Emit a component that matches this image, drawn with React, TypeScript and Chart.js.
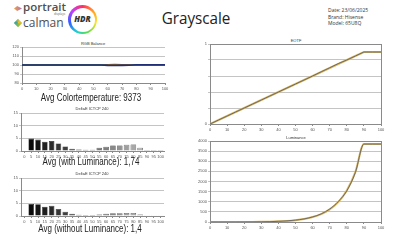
import React, { useEffect, useRef } from "react";
import { Chart, registerables } from "chart.js";
Chart.register(...registerables);

// ---------------- data ----------------
const stimulus = [0, 5, 10, 15, 20, 25, 30, 35, 40, 45, 50, 55, 60, 65, 70, 75, 80, 85, 90, 95, 100];
const stimulusLabels = ["0", "5", "10", "15", "20", "25", "30", "35", "40", "45", "50", "55", "60", "65", "70", "75", "80", "85", "90", "95", "100"];

const rgbRed = [100, 100, 100, 100, 100, 100, 100, 100, 100, 100, 100, 100, 100.4, 100.6, 100.4, 100.2, 99.8, 99.7, 99.8, 99.8, 99.8];
const rgbGreen = [100, 100, 100, 100, 100, 100, 100, 100, 100, 100, 100, 100, 99.8, 99.7, 99.8, 99.9, 100.1, 100.2, 100.1, 100.1, 100.1];
const rgbBlue = [100, 100, 100, 100, 100, 100, 100, 100, 100, 100, 100, 100, 99.6, 99.4, 99.6, 99.8, 100.2, 100.3, 100.2, 100.2, 100.2];

const deltaWithLum = [0, 4.9, 4.5, 3.7, 3.9, 3.0, 1.8, 0.9, 0.6, 0.5, 0.5, 1.3, 1.7, 2.2, 2.2, 2.5, 2.6, 1.3, 0.4, 0.4, 0.4];
const deltaNoLum = [0, 4.7, 4.6, 3.7, 4.0, 2.8, 1.7, 0.9, 0.5, 0.4, 0.4, 0.6, 0.9, 1.1, 1.1, 1.2, 1.2, 0.6, 0.3, 0.3, 0.3];

const eotfTarget = [0, 0.05, 0.1, 0.15, 0.2, 0.25, 0.3, 0.35, 0.4, 0.45, 0.5, 0.55, 0.6, 0.65, 0.7, 0.75, 0.8, 0.85, 0.9, 0.9, 0.9];
const eotfMeasured = [0, 0.05, 0.1, 0.15, 0.2, 0.25, 0.3, 0.35, 0.4, 0.45, 0.5, 0.55, 0.6, 0.652, 0.703, 0.755, 0.8, 0.85, 0.9, 0.9, 0.9];

const lumTarget = [0, 0.07, 0.32, 1.0, 2.5, 5.1, 10, 18, 32, 55, 92, 150, 244, 390, 622, 983, 1555, 2461, 3850, 3850, 3850];
const lumMeasured = [0, 0.07, 0.3, 1.0, 2.4, 5.0, 10, 18, 33, 56, 94, 152, 250, 400, 640, 1010, 1540, 2440, 3850, 3850, 3850];

const lumTicks = [0, 500, 1000, 1500, 2000, 2500, 3000, 3500, 4000];

const reportTitle = "Grayscale";
const infoLines = ["Date: 23/06/2025", "Brand: Hisense", "Model: 65U8Q"];
const avgColorTemp = "Avg Colortemperature: 9373";
const avgWithLum = "Avg (with Luminance): 1,74";
const avgNoLum = "Avg (without Luminance): 1,4";

// ---------------- styles ----------------
const TEXT_FONT = "'Liberation Sans', 'DejaVu Sans', sans-serif";
const tickFont = { family: "'Liberation Sans', 'DejaVu Sans', sans-serif", size: 4 };
const TICK_COLOR = "#555";
const GRID_COLOR = "#c4c4c4";
const AXIS_COLOR = "#8a8a8a";

type Geo = { left: number; top: number; w: number; h: number; pl: number; pt: number; pr: number; pb: number };

const frame = {
  id: "frame",
  beforeDatasetsDraw(c: any) {
    const { ctx, chartArea: a } = c;
    ctx.save();
    ctx.strokeStyle = AXIS_COLOR;
    ctx.lineWidth = 1;
    ctx.strokeRect(Math.round(a.left) + 0.5, Math.round(a.top) + 0.5, Math.round(a.right - a.left), Math.round(a.bottom - a.top));
    ctx.restore();
  },
};

function layoutFor(g: Geo) {
  return {
    yWidth: g.pl - g.left,
    xHeight: g.top + g.h - g.pb,
    padTop: g.pt - g.top,
    padRight: g.left + g.w - g.pr,
  };
}

function baseOptions(g: Geo, xScale: any, yScale: any) {
  const L = layoutFor(g);
  return {
    animation: false,
    responsive: false,
    devicePixelRatio: 1,
    layout: { padding: { top: L.padTop, right: L.padRight, left: 0, bottom: 0 } },
    plugins: { legend: { display: false }, tooltip: { enabled: false }, title: { display: false } },
    scales: {
      x: {
        ...xScale,
        ticks: { font: tickFont, color: TICK_COLOR, padding: 1, maxRotation: 0, autoSkip: false, ...(xScale.ticks || {}) },
        grid: { drawOnChartArea: false, tickLength: 2, color: AXIS_COLOR, ...(xScale.grid || {}) },
        border: { color: AXIS_COLOR },
        afterFit: (s: any) => {
          s.height = L.xHeight;
        },
      },
      y: {
        ...yScale,
        ticks: { font: tickFont, color: TICK_COLOR, padding: 1, callback: (v: number) => String(v), ...(yScale.ticks || {}) },
        grid: { color: GRID_COLOR, tickLength: 2, ...(yScale.grid || {}) },
        border: { color: AXIS_COLOR },
        afterFit: (s: any) => {
          s.width = L.yWidth;
        },
      },
    },
  };
}

function ChartBox({ g, build }: { g: Geo; build: () => any }) {
  const ref = useRef<HTMLCanvasElement>(null);
  useEffect(() => {
    if (!ref.current) return;
    const chart = new Chart(ref.current, build());
    return () => chart.destroy();
  }, []);
  return (
    <div style={{ position: "absolute", left: g.left, top: g.top, width: g.w, height: g.h }}>
      <canvas ref={ref} width={g.w} height={g.h} style={{ width: g.w, height: g.h, display: "block" }} />
    </div>
  );
}

const pts = (ys: number[]) => stimulus.map((x, i) => ({ x, y: ys[i] }));
const barColors = stimulus.map((s) => {
  const v = Math.round(s * 2.1);
  return `rgb(${v},${v},${v})`;
});

// geometries (page coords): box + plot area
const gRgb: Geo = { left: 0, top: 40, w: 172, h: 54, pl: 22, pt: 47, pr: 165, pb: 83 };
const gDe1: Geo = { left: 0, top: 106, w: 172, h: 52, pl: 21, pt: 113, pr: 164, pb: 151 };
const gDe2: Geo = { left: 0, top: 171, w: 172, h: 52, pl: 21, pt: 178, pr: 164, pb: 216 };
const gEotf: Geo = { left: 188, top: 40, w: 200, h: 92, pl: 210, pt: 44, pr: 381, pb: 124 };
const gLum: Geo = { left: 188, top: 137, w: 200, h: 96, pl: 210, pt: 141, pr: 381, pb: 222 };

function rgbConfig() {
  const o: any = baseOptions(
    gRgb,
    { type: "linear", min: 0, max: 100, ticks: { stepSize: 10 } },
    { min: 80, max: 120, ticks: { stepSize: 10 } }
  );
  return {
    type: "line",
    data: {
      datasets: [
        { data: pts(rgbBlue), borderColor: "#1f2f78", borderWidth: 1.6, pointRadius: 0 },
        { data: pts(rgbGreen), borderColor: "#3a8a3a", borderWidth: 1.4, pointRadius: 0 },
        { data: pts(rgbRed), borderColor: "#c03030", borderWidth: 1.4, pointRadius: 0 },
      ],
    },
    options: o,
  };
}

function deltaConfig(g: Geo, values: number[]) {
  const o: any = baseOptions(
    g,
    { type: "category", ticks: {}, grid: { offset: false } },
    { min: 0, max: 15, ticks: { stepSize: 5 } }
  );
  return {
    type: "bar",
    data: {
      labels: stimulusLabels,
      datasets: [
        {
          data: values,
          backgroundColor: barColors,
          borderColor: "#2a2a2a",
          borderWidth: 0.6,
          barPercentage: 0.82,
          categoryPercentage: 1,
        },
      ],
    },
    options: o,
  };
}

function eotfConfig() {
  const o: any = baseOptions(
    gEotf,
    { type: "linear", min: 0, max: 100, ticks: { stepSize: 10 } },
    {
      min: 0,
      max: 1,
      ticks: { stepSize: 0.2, callback: (v: number) => (v === 0 || v === 1 ? String(v) : "") },
    }
  );
  return {
    type: "line",
    data: {
      datasets: [
        { data: pts(eotfMeasured), borderColor: "#6f6a60", borderWidth: 1, pointRadius: 0 },
        { data: pts(eotfTarget), borderColor: "#d9b660", borderWidth: 2, pointRadius: 0 },
      ],
    },
    options: o,
    plugins: [frame],
  };
}

function lumConfig() {
  const o: any = baseOptions(
    gLum,
    { type: "linear", min: 0, max: 100, ticks: { stepSize: 10 } },
    { min: 0, max: 4000, afterBuildTicks: (s: any) => { s.ticks = lumTicks.map((v) => ({ value: v })); } }
  );
  return {
    type: "line",
    data: {
      datasets: [
        { data: pts(lumMeasured), borderColor: "#6f6a60", borderWidth: 1, pointRadius: 0, cubicInterpolationMode: "monotone" },
        { data: pts(lumTarget), borderColor: "#d9b660", borderWidth: 2, pointRadius: 0, cubicInterpolationMode: "monotone" },
      ],
    },
    options: o,
    plugins: [frame],
  };
}

function Label({ x, y, text, size, w, color = "#222", sx = 1 }: { x: number; y: number; text: string; size: number; w: number; color?: string; sx?: number }) {
  return (
    <div
      style={{
        position: "absolute",
        left: x - w / 2,
        top: y - size * 0.6,
        width: w,
        textAlign: "center",
        fontFamily: TEXT_FONT,
        fontSize: size,
        lineHeight: `${size * 1.2}px`,
        color,
        whiteSpace: "nowrap",
        transform: `scaleX(${sx})`,
      }}
    >
      {text}
    </div>
  );
}

function Header() {
  return (
    <>
      {/* portrait displays */}
      <div style={{ position: "absolute", left: 14, top: 6, width: 8, height: 5, background: "linear-gradient(90deg,#f0a040,#b070c0)", clipPath: "polygon(0 50%,40% 0,100% 50%,40% 100%)" }} />
      <div style={{ position: "absolute", left: 23, top: 0, fontFamily: "'Open Sans', sans-serif", fontSize: 11.5, fontWeight: 600, color: "#505050", lineHeight: "14px" }}>portrait</div>
      <div style={{ position: "absolute", left: 54, top: 13, fontFamily: "'Open Sans', sans-serif", fontSize: 3, color: "#666", lineHeight: "3px" }}>displays</div>
      {/* calman */}
      <div style={{ position: "absolute", left: 14, top: 19, width: 8, height: 8, background: "conic-gradient(#f5c030,#8cc040,#40a0a0,#f5c030)", transform: "rotate(45deg) scale(0.75)" }} />
      <div style={{ position: "absolute", left: 23, top: 15, fontFamily: "'Open Sans', sans-serif", fontSize: 12, fontWeight: 500, color: "#505050", lineHeight: "15px" }}>calman</div>
      {/* HDR ring */}
      <div style={{ position: "absolute", left: 68, top: 5, width: 29, height: 29, borderRadius: "50%", background: "conic-gradient(#ff3060,#ffa020,#ffe030,#60e040,#20d0d0,#3060ff,#c040ff,#ff3060)" }} />
      <div style={{ position: "absolute", left: 70.5, top: 7.5, width: 24, height: 24, borderRadius: "50%", background: "#fff" }} />
      <div style={{ position: "absolute", left: 68, top: 13, width: 29, textAlign: "center", fontFamily: "'Open Sans', sans-serif", fontSize: 8, fontWeight: 800, fontStyle: "italic", color: "#333", lineHeight: "12px" }}>HDR</div>
      {/* title */}
      <div style={{ position: "absolute", left: 136, top: 7, width: 110, textAlign: "center", fontFamily: "'Open Sans', sans-serif", fontSize: 16, color: "#222", lineHeight: "22px", transform: "translateX(5px) scaleX(0.95)" }}>{reportTitle}</div>
      {/* info */}
      {infoLines.map((t, i) => (
        <div key={t} style={{ position: "absolute", left: 328, top: 7 + i * 6.5, fontFamily: "'Open Sans', sans-serif", fontSize: 5, color: "#333", lineHeight: "6px", whiteSpace: "nowrap" }}>{t}</div>
      ))}
    </>
  );
}

export default function App() {
  return (
    <div style={{ position: "absolute", left: 0, top: 0, width: 400, height: 240, background: "#fff", overflow: "hidden" }}>
      <Header />

      <Label x={93} y={44} text="RGB Balance" size={4} w={60} color="#333" />
      <ChartBox g={gRgb} build={rgbConfig} />
      <Label x={91} y={98} text={avgColorTemp} size={10} w={170} sx={0.8} />

      <Label x={92} y={109.5} text="DeltaE ICTCP 240" size={4} w={60} color="#333" />
      <ChartBox g={gDe1} build={() => deltaConfig(gDe1, deltaWithLum)} />
      <Label x={91} y={162} text={avgWithLum} size={10} w={170} sx={0.8} />

      <Label x={92} y={174.5} text="DeltaE ICTCP 240" size={4} w={60} color="#333" />
      <ChartBox g={gDe2} build={() => deltaConfig(gDe2, deltaNoLum)} />
      <Label x={90} y={229} text={avgNoLum} size={10} w={170} sx={0.8} />

      <Label x={296} y={41.5} text="EOTF" size={4} w={40} color="#333" />
      <ChartBox g={gEotf} build={eotfConfig} />

      <Label x={296} y={138} text="Luminance" size={4} w={40} color="#333" />
      <ChartBox g={gLum} build={lumConfig} />
    </div>
  );
}
